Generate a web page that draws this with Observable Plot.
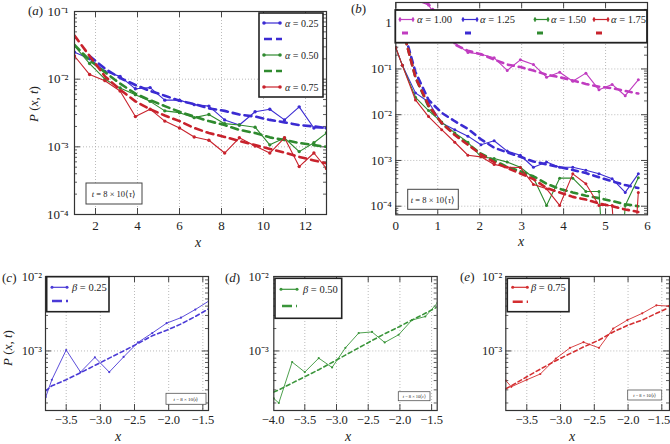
<!DOCTYPE html>
<html><head><meta charset="utf-8">
<script src="https://cdn.jsdelivr.net/npm/d3@7"></script>
<script src="https://cdn.jsdelivr.net/npm/@observablehq/plot@0.6"></script>
<style>
body{margin:0;background:#fff}
#fig{position:relative;width:670px;height:444px;overflow:hidden;font-family:"Liberation Serif","Times New Roman",serif}
#fig svg{position:absolute;overflow:visible}
</style></head>
<body><div id="fig"></div>
<script>
// ---------- Panel (a) ----------
const xA = [1.0,1.72,2.45,3.17,3.9,4.6,5.3,6.0,6.7,7.4,8.15,8.85,9.6,10.3,11.0,11.7,12.4,13.0];
const a025 = [0.025,0.020,0.013,0.011,0.0072,0.0075,0.0049,0.0049,0.0042,0.0040,0.0025,0.0021,0.0033,0.0036,0.0025,0.0039,0.0019,0.0019];
const a025fit = [null,0.022,0.0143,0.0104,0.0082,0.0067,0.0057,0.0048,0.0043,0.0037,0.0034,0.0030,0.0028,0.0025,0.0023,0.0021,0.0020,0.0019];
const a050 = [0.031,0.017,0.010,0.0074,0.0059,0.0047,0.0034,0.0032,0.0027,0.0030,0.0022,0.0021,0.00195,0.00107,0.00135,0.00085,0.00115,0.0016];
const a050fit = [0.032,0.019,0.0127,0.0086,0.0061,0.0049,0.0040,0.0033,0.0028,0.0024,0.0021,0.00178,0.0016,0.00138,0.00126,0.00114,0.00106,0.0010];
const a075 = [0.022,0.0117,0.0095,0.0067,0.0028,0.0036,0.0024,0.0019,0.0014,0.00125,0.00081,0.00136,0.00103,0.00081,0.00136,0.00051,0.00081,0.00048];
const a075fit = [0.044,0.022,0.011,0.0070,0.0047,0.0036,0.0029,0.0024,0.0019,0.0016,0.0014,0.00122,0.00106,0.00093,0.00082,0.00071,0.00063,0.00057];
const xTicksA = [2,4,6,8,10,12];
const xLabelsA = ["2","4","6","8","10","12"];
const yTicksA = [1e-4,1e-3,1e-2,1e-1];
const yLabelsA = ["10⁻⁴","10⁻³","10⁻²","10⁻¹"];

// ---------- Panel (b) ----------
const xB = [0,0.156,0.469,0.781,1.094,1.406,1.719,2.031,2.344,2.656,2.969,3.281,3.594,3.906,4.219,4.531,4.844,5.156,5.469,5.781];
const b100 = [null,5.0,3.2,2.5,0.9,0.37,0.23,0.21,0.175,0.093,0.158,0.125,0.066,0.085,0.054,0.081,0.035,0.046,0.026,0.058];
const b100fit = [null,null,4.0,2.6,1.2,0.34,0.25,0.21,0.16,0.125,0.11,0.092,0.075,0.066,0.056,0.047,0.041,0.038,0.033,0.029];
const b125 = [0.29,0.12,0.030,0.019,0.0066,0.0047,0.0034,0.0022,0.0027,0.0016,0.0013,0.00071,0.00093,0.00071,0.00071,0.00061,0.00051,0.00040,0.00020,0.00051];
const b125fit = [null,0.9,0.085,0.021,0.011,0.0072,0.0049,0.0029,0.0019,0.0015,0.0012,0.00095,0.00082,0.00071,0.00062,0.00053,0.00043,0.00035,0.00029,0.00025];
const b150 = [0.29,0.12,0.024,0.0123,0.0069,0.0040,0.0025,0.0012,0.0011,0.00092,0.00071,0.00042,0.000104,0.00041,0.00041,0.00021,0.00021,0,0.000104,0.00042];
const b150fit = [null,0.8,0.065,0.015,0.0065,0.0037,0.0023,0.0014,0.0010,0.00072,0.00058,0.00045,0.00031,0.00024,0.00020,0.00017,0.00015,0.00013,0.00011,0.00010];
const b175 = [0.29,0.12,0.021,0.0091,0.0047,0.0025,0.0013,0.0012,0.00082,0.00071,0.00070,0.00030,0.00024,0.000104,0.00051,0.00031,0.000104,0.000104,0,0.00020];
const b175fit = [null,0.8,0.065,0.016,0.0066,0.0036,0.0022,0.00135,0.00092,0.00068,0.00052,0.00039,0.00025,0.00020,0.00016,0.00014,0.000115,0.00010,0.000085,0.000075];
const xTicksB = [0,1,2,3,4,5,6];
const xLabelsB = ["0","1","2","3","4","5","6"];
const yTicksB = [1e-4,1e-3,1e-2,1e-1,1];
const yLabelsB = ["10⁻⁴","10⁻³","10⁻²","10⁻¹","1"];

// ---------- Panels (c), (d), (e) ----------
const xC = [-3.80,-3.71,-3.50,-3.29,-3.08,-2.87,-2.66,-2.45,-2.24,-2.03,-1.82,-1.61,-1.41];
const c025 = [0.00024,0.00041,0.00103,0.00052,0.00082,0.00052,0.00083,0.0013,0.00174,0.00236,0.0028,0.0036,0.0047];
const c025fit = [0.00029,0.00034,0.00041,0.00051,0.00064,0.00080,0.00100,0.00126,0.0016,0.0019,0.0023,0.0029,0.0037];
const xD = [-3.99,-3.91,-3.70,-3.50,-3.28,-3.07,-2.86,-2.65,-2.44,-2.24,-2.02,-1.81,-1.60,-1.41];
const d050 = [0.00023,0.00020,0.00071,0.00052,0.0008,0.0006,0.0011,0.00174,0.0018,0.0013,0.00165,0.0026,0.0029,0.0044];
const d050fit = [0.00028,0.0003,0.00037,0.00045,0.00056,0.0007,0.00088,0.0011,0.00138,0.0017,0.0021,0.0026,0.0032,0.0039];
const xE = [-3.81,-3.73,-3.50,-3.30,-3.07,-2.86,-2.66,-2.43,-2.22,-2.01,-1.79,-1.58,-1.40];
const e075 = [0.0004,0.00033,0.00041,0.00049,0.00079,0.0011,0.00131,0.0011,0.0020,0.0026,0.0032,0.0041,0.0040];
const e075fit = [0.00031,0.00034,0.00045,0.00057,0.00074,0.00092,0.00113,0.0014,0.0018,0.0022,0.0026,0.0032,0.0038];
const xTicksCE = [-3.5,-3.0,-2.5,-2.0,-1.5];
const xLabelsCE = ["−3.5","−3.0","−2.5","−2.0","−1.5"];
const xTicksD = [-4.0,-3.5,-3.0,-2.5,-2.0,-1.5];
const xLabelsD = ["−4.0","−3.5","−3.0","−2.5","−2.0","−1.5"];
const yTicksB2 = [1e-3,1e-2];
const yLabelsB2 = ["10⁻³","10⁻²"];

// ---------- colours ----------
const BLUE = "#3b2bd2", GREEN = "#2f8a2f", RED = "#c8222c", MAG = "#c03cc0";
const BLUE2 = "#4a3ad6", GREEN2 = "#3a953a", RED2 = "#d42e30";
const FONT = "'Liberation Serif','Times New Roman',serif";
const fig = document.getElementById("fig");
let lastSvg = null;

function panel(cfg) {
  const {left, top, width, height, ml, mr, mt, mb} = cfg;
  const fw = width - ml - mr, fh = height - mt - mb;
  const floor = cfg.yDomain[0] / 1e4;
  const Y = d => (d.y > 0 ? d.y : floor);
  const minor = [];
  const e0 = Math.floor(Math.log10(cfg.yDomain[0])), e1 = Math.ceil(Math.log10(cfg.yDomain[1]));
  for (let e = e0; e <= e1; e++) for (let m = 2; m <= 9; m++) {
    const v = m * Math.pow(10, e);
    if (v > cfg.yDomain[0] && v < cfg.yDomain[1]) minor.push(v);
  }
  const grid = {stroke: "#aaa", strokeDasharray: "1,2", strokeWidth: 0.8};
  const inX = cfg.xTicks.filter(v => v >= cfg.xDomain[0] && v <= cfg.xDomain[1]);
  const marks = [
    Plot.ruleX(cfg.xTicks.filter(v => v > cfg.xDomain[0] && v < cfg.xDomain[1]), {x: d => d, ...grid}),
    Plot.ruleY(cfg.yTicks.filter(v => v > cfg.yDomain[0] && v < cfg.yDomain[1]), {y: d => d, ...grid}),
    Plot.tickY(minor, {y: d => d, stroke: "#333", strokeWidth: 0.8, insetRight: fw - 3}),
    Plot.tickY(minor, {y: d => d, stroke: "#333", strokeWidth: 0.8, insetLeft: fw - 3}),
    Plot.tickY(cfg.yTicks, {y: d => d, stroke: "#333", strokeWidth: 0.9, insetRight: fw - 6}),
    Plot.tickY(cfg.yTicks, {y: d => d, stroke: "#333", strokeWidth: 0.9, insetLeft: fw - 6}),
    Plot.tickX(inX, {x: d => d, stroke: "#333", strokeWidth: 0.9, insetTop: fh - 6}),
    Plot.tickX(inX, {x: d => d, stroke: "#333", strokeWidth: 0.9, insetBottom: fh - 6})
  ];
  for (const s of cfg.series) {
    const solid = cfg.x.map((x, i) => ({x, y: s.values[i]})).filter(d => d.y != null);
    const fit = cfg.x.map((x, i) => ({x, y: s.fit[i]})).filter(d => d.y != null);
    marks.push(Plot.line(solid, {x: "x", y: Y, stroke: s.color, strokeWidth: cfg.lw, clip: true}));
    marks.push(Plot.dot(solid, {x: "x", y: Y, r: cfg.r, fill: s.color, stroke: "none", clip: true}));
    marks.push(Plot.line(fit, {x: "x", y: Y, stroke: s.color, strokeWidth: cfg.dw, strokeDasharray: cfg.dash, clip: true}));
  }
  marks.push(Plot.frame({stroke: "#333", strokeWidth: 1.2}));
  const svg = Plot.plot({
    width, height, marginLeft: ml, marginRight: mr, marginTop: mt, marginBottom: mb,
    x: {domain: cfg.xDomain, ticks: cfg.xTicks, tickFormat: d => cfg.xLabels[cfg.xTicks.indexOf(d)], tickSize: 0, tickPadding: cfg.xPad, label: null},
    y: {type: "log", domain: cfg.yDomain, ticks: cfg.yTicks, tickFormat: d => cfg.yLabels[cfg.yTicks.indexOf(d)], tickSize: 0, tickPadding: cfg.yPad, label: null},
    style: {fontFamily: FONT, fontSize: cfg.fs + "px", color: "#222", background: "none", overflow: "visible"},
    marks
  });
  svg.style.left = left + "px";
  svg.style.top = top + "px";
  fig.appendChild(svg);
  lastSvg = svg;
  return d3.select(svg).append("g").attr("transform", `translate(${-left},${-top})`).attr("font-family", FONT).attr("fill", "#222");
}

function mtext(g, x, y, parts, size, anchor, rotate) {
  const t = g.append("text").attr("x", x).attr("y", y).attr("font-size", size).attr("text-anchor", anchor || "start");
  if (rotate) t.attr("transform", `rotate(${rotate},${x},${y})`);
  parts.forEach(([s, it]) => t.append("tspan").text(s).attr("font-style", it ? "italic" : null));
  return t;
}
function box(g, x1, y1, x2, y2, sw, stroke) {
  g.append("rect").attr("x", x1).attr("y", y1).attr("width", x2 - x1).attr("height", y2 - y1)
    .attr("fill", "#fff").attr("stroke", stroke).attr("stroke-width", sw);
}
function hSolid(g, x1, x2, y, color, lw, r) {
  g.append("line").attr("x1", x1).attr("x2", x2).attr("y1", y).attr("y2", y).attr("stroke", color).attr("stroke-width", lw);
  [x1, x2].forEach(x => g.append("circle").attr("cx", x).attr("cy", y).attr("r", r).attr("fill", color));
}
function hDash(g, x1, x2, y, color, lw, dash) {
  g.append("line").attr("x1", x1).attr("x2", x2).attr("y1", y).attr("y2", y).attr("stroke", color)
    .attr("stroke-width", lw).attr("stroke-dasharray", dash);
}
const PXT = [["P", true], [" (", false], ["x", true], [", ", false], ["t", true], [")", false]];

// ===== (a) =====
let g = panel({
  left: 0, top: 0, width: 335, height: 255, ml: 74, mr: 9, mt: 11, mb: 41,
  x: xA, xDomain: [1, 13], xTicks: xTicksA, xLabels: xLabelsA, xPad: 6,
  yDomain: [1e-4, 1e-1], yTicks: yTicksA, yLabels: yLabelsA, yPad: 6, fs: 13,
  lw: 1.1, r: 1.7, dw: 2.6, dash: "7,5",
  series: [
    {values: a025, fit: a025fit, color: BLUE},
    {values: a050, fit: a050fit, color: GREEN},
    {values: a075, fit: a075fit, color: RED}
  ]
});
box(g, 259, 13, 323, 97, 1.6, "#222");
hSolid(g, 264, 280, 23, BLUE, 1.2, 1.8); mtext(g, 285, 26.5, [["α", true], [" = 0.25", false]], 10);
hDash(g, 264, 282, 39, BLUE, 2.6, "8,4");
hSolid(g, 264, 280, 55, GREEN, 1.2, 1.8); mtext(g, 285, 58.5, [["α", true], [" = 0.50", false]], 10);
hDash(g, 264, 282, 71, GREEN, 2.6, "8,4");
hSolid(g, 264, 280, 87, RED, 1.2, 1.8); mtext(g, 285, 90.5, [["α", true], [" = 0.75", false]], 10);
box(g, 86, 183, 142, 204, 1, "#444");
mtext(g, 114, 197, [["t", true], [" = 8 × 10⟨", false], ["τ", true], ["⟩", false]], 8.5, "middle");
mtext(g, 28, 15, [["(", false], ["a", true], [")", false]], 13);
mtext(g, 37.5, 104, PXT, 13, "middle", -90);
mtext(g, 198, 247, [["x", true]], 14, "middle");

// ===== (b) =====
g = panel({
  left: 335, top: 0, width: 335, height: 255, ml: 60.3, mr: 23, mt: 2, mb: 40.7,
  x: xB, xDomain: [0, 6], xTicks: xTicksB, xLabels: xLabelsB, xPad: 6,
  yDomain: [6.49e-5, 2.835], yTicks: yTicksB, yLabels: yLabelsB, yPad: 4, fs: 13,
  lw: 1.1, r: 1.5, dw: 2.6, dash: "6,5",
  series: [
    {values: b100, fit: b100fit, color: MAG},
    {values: b125, fit: b125fit, color: BLUE},
    {values: b150, fit: b150fit, color: GREEN},
    {values: b175, fit: b175fit, color: RED}
  ]
});
box(g, 395.3, 10, 647, 42.7, 1.8, "#222");
[[400, 413, 417, "1.00", MAG], [463, 477, 480, "1.25", BLUE], [535, 548, 551, "1.50", GREEN], [594, 608, 611, "1.75", RED]]
  .forEach(([h1, h2, tx, lab, col]) => {
    hSolid(g, h1, h2, 19.5, col, 1.2, 1.4);
    g.append("line").attr("x1", h1).attr("x2", h1).attr("y1", 17).attr("y2", 22).attr("stroke", col).attr("stroke-width", 1);
    g.append("line").attr("x1", h2).attr("x2", h2).attr("y1", 17).attr("y2", 22).attr("stroke", col).attr("stroke-width", 1);
    mtext(g, tx, 23, [["α", true], [" = " + lab, false]], 10.5);
    hDash(g, h1 + 2, h1 + 8, 33, col, 3, "none");
  });
box(g, 407.7, 189.3, 458.3, 209.3, 1, "#444");
mtext(g, 433, 202.5, [["t", true], [" = 8 × 10⟨", false], ["τ", true], ["⟩", false]], 8.5, "middle");
mtext(g, 351, 13, [["(", false], ["b", true], [")", false]], 13);
mtext(g, 521, 246, [["x", true]], 14, "middle");

// ===== (c) =====
g = panel({
  left: 0, top: 255, width: 225, height: 189, ml: 45, mr: 17, mt: 21, mb: 34,
  x: xC, xDomain: [-3.803, -1.417], xTicks: xTicksCE, xLabels: xLabelsCE, xPad: 5,
  yDomain: [1.585e-4, 1e-2], yTicks: yTicksB2, yLabels: yLabelsB2, yPad: 3.5, fs: 12.5,
  lw: 0.9, r: 1.1, dw: 1.6, dash: "4,3",
  series: [{values: c025, fit: c025fit, color: BLUE2}]
});
box(g, 46.7, 276.7, 109, 311.7, 1.6, "#222");
hSolid(g, 52, 67, 287.3, BLUE2, 1.2, 1.5); mtext(g, 72, 291, [["β", true], [" = 0.25", false]], 10.5);
hDash(g, 52, 68, 301, BLUE2, 2.4, "10,4,2");
box(g, 166, 393.3, 206, 404.3, 0.8, "#555");
mtext(g, 186, 400.5, [["t", true], [" = 8 × 10⟨", false], ["t", true], ["⟩", false]], 5, "middle");
mtext(g, 2, 282, [["(", false], ["c", true], [")", false]], 13);
mtext(g, 11.5, 348, PXT, 13, "middle", -90);
mtext(g, 118, 441, [["x", true]], 14, "middle");

// ===== (d) =====
g = panel({
  left: 225, top: 255, width: 225, height: 189, ml: 48.3, mr: 13.3, mt: 21, mb: 34,
  x: xD, xDomain: [-3.989, -1.412], xTicks: xTicksD, xLabels: xLabelsD, xPad: 5,
  yDomain: [1.585e-4, 1e-2], yTicks: yTicksB2, yLabels: yLabelsB2, yPad: 5, fs: 12.5,
  lw: 0.9, r: 1.1, dw: 1.6, dash: "4,3",
  series: [{values: d050, fit: d050fit, color: GREEN2}]
});
box(g, 275, 278.3, 341.7, 318.3, 1.6, "#222");
hSolid(g, 281, 297, 289.3, GREEN2, 1.2, 1.5); mtext(g, 303, 293, [["β", true], [" = 0.50", false]], 10.5);
hDash(g, 282, 297, 306, GREEN2, 2.4, "10,4,2");
box(g, 398.3, 391.7, 430, 400.7, 0.8, "#555");
mtext(g, 414.2, 397.8, [["t", true], [" = 8 × 10⟨", false], ["t", true], ["⟩", false]], 4.5, "middle");
mtext(g, 225, 282, [["(", false], ["d", true], [")", false]], 13);
mtext(g, 348, 441, [["x", true]], 14, "middle");

// ===== (e) =====
g = panel({
  left: 450, top: 255, width: 220, height: 189, ml: 55.3, mr: 1, mt: 21, mb: 34,
  x: xE, xDomain: [-3.811, -1.386], xTicks: xTicksCE, xLabels: xLabelsCE, xPad: 5,
  yDomain: [1.585e-4, 1e-2], yTicks: yTicksB2, yLabels: yLabelsB2, yPad: 3.6, fs: 12.5,
  lw: 0.9, r: 1.1, dw: 1.6, dash: "4,3",
  series: [{values: e075, fit: e075fit, color: RED2}]
});
// keep the last tick label of (e) inside the picture
d3.select(lastSvg).selectAll("text").filter(function () { return this.textContent === "−1.5"; })
  .attr("text-anchor", "end").attr("dx", 8.5);
box(g, 507.3, 278.3, 569, 311.7, 1.6, "#222");
hSolid(g, 512.7, 527.3, 287.3, RED2, 1.2, 1.5); mtext(g, 531, 291, [["β", true], [" = 0.75", false]], 10.5);
hDash(g, 512.7, 528, 301.7, RED2, 2.4, "10,4,2");
box(g, 627.7, 390, 661.7, 400, 0.8, "#555");
mtext(g, 644.7, 396.5, [["t", true], [" = 8 × 10⟨", false], ["t", true], ["⟩", false]], 4.5, "middle");
mtext(g, 460, 281, [["(", false], ["e", true], [")", false]], 13);
mtext(g, 572, 441, [["x", true]], 14, "middle");
</script>
</body></html>
